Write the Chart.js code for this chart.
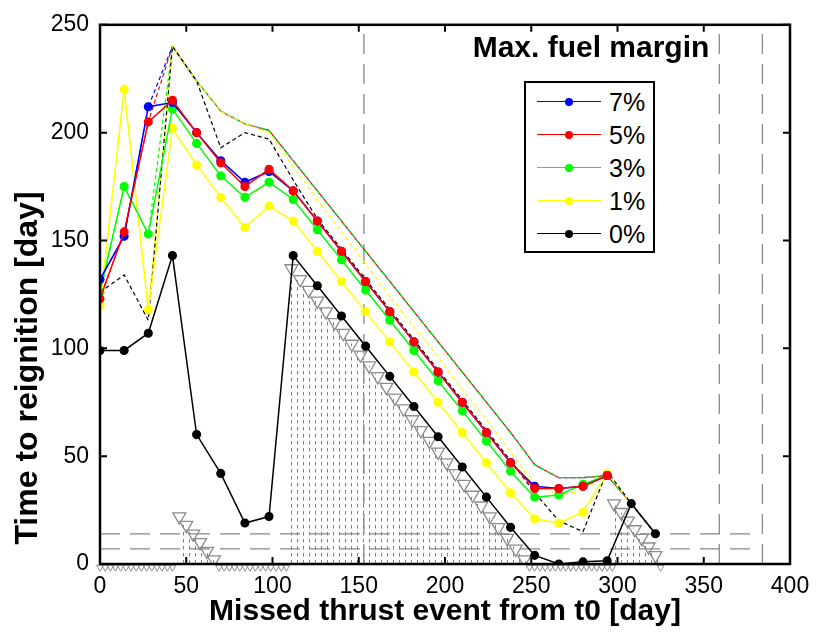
<!DOCTYPE html>
<html>
<head>
<meta charset="utf-8">
<script src="https://cdn.jsdelivr.net/npm/chart.js@4.4.1/dist/chart.umd.min.js"></script>
<style>
  html, body { margin: 0; padding: 0; background: #fff; }
  #wrap { position: relative; width: 820px; height: 635px; font-family: "Liberation Sans", Arial, sans-serif; }
  #legendTitle { position: absolute; left: 441px; top: 29px; width: 300px; text-align: center; font-weight: bold; font-size: 30px; line-height: 36px; }
  #legendBox { position: absolute; left: 524px; top: 81px; width: 127px; height: 168px; border: 2px solid #000; background: #fff; }
  .row { position: absolute; left: 0; height: 30px; width: 127px; }
  .row .ln { position: absolute; left: 11px; top: 14px; width: 64px; height: 0; border-top: 1.5px solid; }
  .row .mk { position: absolute; left: 39px; top: 11px; width: 8px; height: 8px; border-radius: 50%; }
  .row .tx { position: absolute; left: 83px; top: 0; font-size: 25px; line-height: 30px; }
</style>
</head>
<body>
<div id="wrap">
  <canvas id="myChart" width="820" height="635"></canvas>
  <div id="legendTitle">Max. fuel margin</div>
  <div id="legendBox"></div>
</div>
<script>
// missed thrust event day
const days = [0,14,28,42,56,70,84,98,112,126,140,154,168,182,196,210,224,238,252,266,280,294,308,322];

// time to reignition, solid lines
const margin7 = [132,152,212,214,200,187,177,182,173,159,145,131,117,103,89,75,61,47,36,35,36,41,null,null];
const margin5 = [123,154,205,215,200,186,175,183,173,159,145,131,117,103,89,75,61,47,35,35,36,41,null,null];
const margin3 = [126,175,153,211,195,180,170,177,169,155,141,127,113,99,85,71,57,43,31,32,37,41,null,null];
const margin1 = [120,220,118,202,185,170,156,166,159,145,131,117,103,89,75,61,47,33,21,19,24,42,null,null];
const margin0 = [99,99,107,143,60,42,19,22,143,129,115,101,87,73,59,45,31,17,4,0,1,1.5,28,14];

// dashed upper lines
const upper7 = [132,152,212,240,224,210,204,201,187,173,159,145,131,117,103,89,75,61,46,40,40,41,28,14];
const upper5 = [123,154,205,240,224,210,204,201,187,173,159,145,131,117,103,89,75,61,46,40,40,41,28,14];
const upper3 = [126,175,153,240,224,210,204,201,187,173,159,145,131,117,103,89,75,61,46,40,40,41,28,14];
const upper1 = [120,220,118,240,224,210,204,200,184,169,154,139,124,110,96,81,67,52,37,32,34,42,28,14];
const upper0 = [126,134,113,240,224,193,200,197,178,160,146,132,118,104,90,76,62,48,33,20,15,43,28,14];

// grey triangles
const triX = [46,50,54,58,62,66,
  111,116,121,126,131,136,141,146,151,156,161,166,171,176,181,186,191,196,201,206,211,216,221,226,231,236,241,246,
  298,302,306,310,314,318,322];
const triY = [22,18,14,10,6,2,
  137,132,127,122,117,112,107,102,97,92,87,82,77,72,67,62,57,52,47,42,37,32,27,22,17,12,7,2,
  28,24,20,16,12,8,4];
const botX = [0,3,6,9,12,15,18,21,24,27,30,33,36,39,42,
  69,72,75,78,81,84,87,90,93,96,99,102,105,108,
  249,252,255,258,261,264,267,270,273,276,279,282,285,288,291,294,297,325];
const botY = -1.5;

// hatched areas
const hatchAX = [45,46,68], hatchAY = [0,22,0];
const hatchBX = [109,110,248], hatchBY = [0,138,0];
const hatchCX = [297,298,326], hatchCY = [0,28,0];

// reference lines
const refH = [14,7];
const refHRange = [0,380];
const refV = [153,359,384];
const refVRange = [0,250];

const xTicks = [0,50,100,150,200,250,300,350,400];
const yTicks = [0,50,100,150,200,250];

const names = ['7%','5%','3%','1%','0%'];
const colors = ['#0000ff','#ff0000','#00ff00','#ffff00','#000000'];
const solids = [margin7, margin5, margin3, margin1, margin0];
const uppers = [upper7, upper5, upper3, upper1, upper0];

function pts(xs, ys) {
  return xs.map((x, i) => ({x: x, y: ys[i]}));
}

const ctx = document.getElementById('myChart').getContext('2d');

const pat = document.createElement('canvas');
pat.width = 6; pat.height = 7;
const pc = pat.getContext('2d');
pc.strokeStyle = '#808080';
pc.lineWidth = 1;
pc.beginPath(); pc.moveTo(3.5, 0); pc.lineTo(3.5, 3.5); pc.stroke();
const hatch = ctx.createPattern(pat, 'repeat');

const datasets = [];
// solid lines, red on top of blue
[1,0,2,3,4].forEach(i => {
  datasets.push({
    label: names[i], data: pts(days, solids[i]),
    borderColor: colors[i], backgroundColor: colors[i],
    borderWidth: 1.5, pointRadius: 3.8, pointHoverRadius: 3.8, spanGaps: false
  });
});
[4,3,2,1,0].forEach(i => {
  datasets.push({
    label: 'upper ' + names[i], data: pts(days, uppers[i]),
    borderColor: colors[i], borderWidth: 1.2, borderDash: [4,3],
    pointRadius: 0
  });
});
datasets.push({
  label: 'tri', data: pts(triX, triY), showLine: false,
  pointStyle: 'triangle', rotation: 180, pointRadius: 7.5,
  borderColor: '#8c8c8c', backgroundColor: 'rgba(0,0,0,0)', pointBorderWidth: 1.3
});
datasets.push({
  label: 'bot', data: botX.map(x => ({x: x, y: botY})), showLine: false, clip: false,
  pointStyle: 'triangle', rotation: 180, pointRadius: 4, pointHoverRadius: 4,
  borderColor: '#8c8c8c', backgroundColor: 'rgba(0,0,0,0)', pointBorderWidth: 1
});
[[hatchAX,hatchAY],[hatchBX,hatchBY],[hatchCX,hatchCY]].forEach(h => {
  datasets.push({
    label: 'hatch', data: pts(h[0], h[1]), borderWidth: 0, pointRadius: 0,
    fill: 'origin', backgroundColor: hatch, borderColor: 'rgba(0,0,0,0)'
  });
});
refH.forEach(v => {
  datasets.push({
    label: 'refH', data: refHRange.map(x => ({x: x, y: v})),
    borderColor: '#888', borderWidth: 1.3, borderDash: [20,10], pointRadius: 0
  });
});
refV.forEach(v => {
  datasets.push({
    label: 'refV', data: refVRange.map(y => ({x: v, y: y})),
    borderColor: '#888', borderWidth: 1.3, borderDash: [20,10], pointRadius: 0
  });
});

const boxPlugin = {
  id: 'box',
  afterDraw(chart) {
    const c = chart.ctx, a = chart.chartArea, sx = chart.scales.x, sy = chart.scales.y;
    c.save();
    c.strokeStyle = '#000';
    c.lineWidth = 2.5;
    c.strokeRect(a.left, a.top, a.right - a.left, a.bottom - a.top);
    c.lineWidth = 2;
    c.beginPath();
    xTicks.forEach(t => {
      const px = sx.getPixelForValue(t);
      c.moveTo(px, a.bottom); c.lineTo(px, a.bottom - 7);
      c.moveTo(px, a.top); c.lineTo(px, a.top + 7);
    });
    yTicks.forEach(t => {
      const py = sy.getPixelForValue(t);
      c.moveTo(a.left, py); c.lineTo(a.left + 7, py);
      c.moveTo(a.right, py); c.lineTo(a.right - 7, py);
    });
    c.stroke();
    // y axis title
    c.translate(28, 368);
    c.rotate(-Math.PI / 2);
    c.fillStyle = '#000';
    c.font = 'bold 32px "Liberation Sans", Arial, sans-serif';
    c.textAlign = 'center';
    c.textBaseline = 'middle';
    c.fillText('Time to reignition [day]', 0, 0);
    c.restore();
  }
};

new Chart(ctx, {
  type: 'line',
  data: { datasets: datasets },
  plugins: [boxPlugin],
  options: {
    responsive: false,
    animation: false,
    events: [],
    layout: { padding: { top: 18, right: 30, left: 0, bottom: 0 } },
    plugins: { legend: { display: false }, tooltip: { enabled: false } },
    scales: {
      x: {
        type: 'linear', min: 0, max: 400,
        afterBuildTicks: s => { s.ticks = xTicks.map(v => ({value: v})); },
        afterFit: s => { s.height = 71; },
        grid: { display: false, drawTicks: false },
        border: { display: false },
        ticks: { color: '#000', padding: 9, font: { family: 'Liberation Sans', size: 23 } },
        title: { display: true, text: 'Missed thrust event from t0 [day]', color: '#000',
          font: { family: 'Liberation Sans', size: 30, weight: 'bold' }, padding: { top: 0, bottom: 5 } }
      },
      y: {
        min: 0, max: 250,
        afterBuildTicks: s => { s.ticks = yTicks.map(v => ({value: v})); },
        afterFit: s => { s.width = 100; },
        grid: { display: false, drawTicks: false },
        border: { display: false },
        ticks: { color: '#000', padding: 11, font: { family: 'Liberation Sans', size: 23 } },
        title: { display: false }
      }
    }
  }
});

// legend
const box = document.getElementById('legendBox');
names.forEach((n, i) => {
  const r = document.createElement('div');
  r.className = 'row';
  r.style.top = (4 + i * 33) + 'px';
  r.innerHTML = '<div class="ln" style="border-color:' + colors[i] + '"></div>' +
    '<div class="mk" style="background:' + colors[i] + '"></div>' +
    '<div class="tx">' + n + '</div>';
  box.appendChild(r);
});
</script>
</body>
</html>
